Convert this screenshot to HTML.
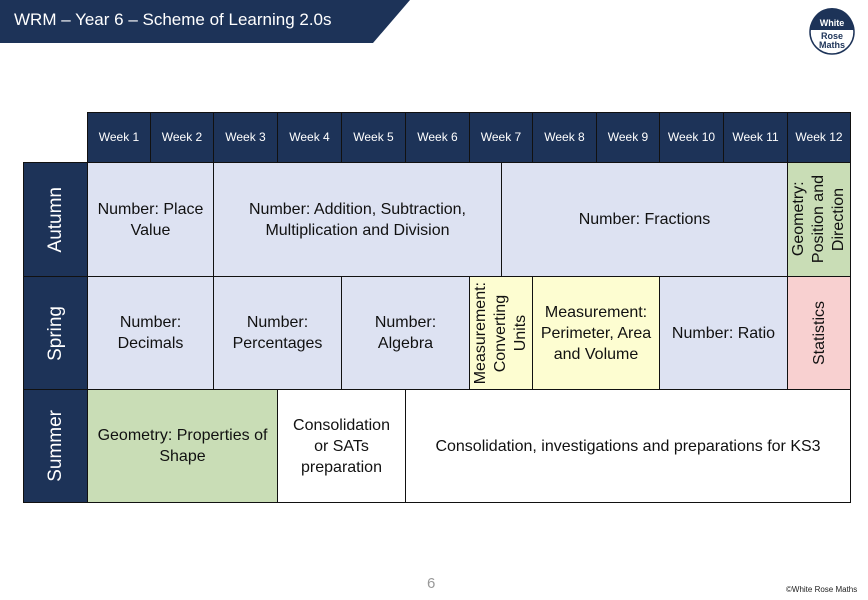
<!DOCTYPE html>
<html><head><style>
body{margin:0;width:868px;height:600px;background:#fff;position:relative;overflow:hidden;font-family:"Liberation Sans",sans-serif}
.c{position:absolute;box-sizing:border-box;border:1.5px solid #111;display:flex;align-items:center;justify-content:center;text-align:center;font-size:16px;line-height:21px;color:#111}
.h{background:#1d3358;color:#fff;font-size:12px}
.b{background:#dde2f2}.g{background:#c9ddb6}.y{background:#fdfdd1}.p{background:#f8d0d0}.w{background:#fff}
.v{writing-mode:vertical-rl;transform:rotate(180deg)}
.s{background:#1d3358;color:#fff;font-size:19px}
</style></head><body>
<svg style="position:absolute;left:0;top:0" width="868" height="60">
<polygon points="0,0 410,0 373,43 0,43" fill="#1d3358"/>
<circle cx="832" cy="32" r="22" fill="#fff" stroke="#1d3358" stroke-width="1.5"/>
<path d="M810,30 A22,22 0 0 1 854,30 Z" fill="#1d3358"/>
<text x="832" y="26" fill="#fff" font-size="9" font-weight="bold" text-anchor="middle" font-family="Liberation Sans">White</text>
<text x="832" y="39" fill="#1d3358" font-size="9" font-weight="bold" text-anchor="middle" font-family="Liberation Sans">Rose</text>
<text x="832" y="48" fill="#1d3358" font-size="9" font-weight="bold" text-anchor="middle" font-family="Liberation Sans">Maths</text>
</svg>
<div style="position:absolute;left:14px;top:10px;color:#fff;font-size:17px">WRM – Year 6 – Scheme of Learning 2.0s</div>

<div class="c h" style="left:87px;top:112px;width:64px;height:51px">Week 1</div>
<div class="c h" style="left:150px;top:112px;width:64px;height:51px">Week 2</div>
<div class="c h" style="left:213px;top:112px;width:65px;height:51px">Week 3</div>
<div class="c h" style="left:277px;top:112px;width:65px;height:51px">Week 4</div>
<div class="c h" style="left:341px;top:112px;width:65px;height:51px">Week 5</div>
<div class="c h" style="left:405px;top:112px;width:65px;height:51px">Week 6</div>
<div class="c h" style="left:469px;top:112px;width:64px;height:51px">Week 7</div>
<div class="c h" style="left:532px;top:112px;width:65px;height:51px">Week 8</div>
<div class="c h" style="left:596px;top:112px;width:64px;height:51px">Week 9</div>
<div class="c h" style="left:659px;top:112px;width:65px;height:51px">Week 10</div>
<div class="c h" style="left:723px;top:112px;width:65px;height:51px">Week 11</div>
<div class="c h" style="left:787px;top:112px;width:64px;height:51px">Week 12</div>

<div class="c s" style="left:23px;top:162px;width:65px;height:115px"><span class="v">Autumn</span></div>
<div class="c s" style="left:23px;top:276px;width:65px;height:114px"><span class="v">Spring</span></div>
<div class="c s" style="left:23px;top:389px;width:65px;height:114px"><span class="v">Summer</span></div>

<div class="c b" style="left:87px;top:162px;width:127px;height:115px">Number: Place<br>Value</div>
<div class="c b" style="left:213px;top:162px;width:289px;height:115px">Number: Addition, Subtraction,<br>Multiplication and Division</div>
<div class="c b" style="left:501px;top:162px;width:287px;height:115px">Number: Fractions</div>
<div class="c g" style="left:787px;top:162px;width:64px;height:115px"><span class="v" style="line-height:20px">Geometry:<br>Position and<br>Direction</span></div>

<div class="c b" style="left:87px;top:276px;width:127px;height:114px">Number:<br>Decimals</div>
<div class="c b" style="left:213px;top:276px;width:129px;height:114px">Number:<br>Percentages</div>
<div class="c b" style="left:341px;top:276px;width:129px;height:114px">Number:<br>Algebra</div>
<div class="c y" style="left:469px;top:276px;width:64px;height:114px"><span class="v" style="line-height:20px">Measurement:<br>Converting<br>Units</span></div>
<div class="c y" style="left:532px;top:276px;width:128px;height:114px">Measurement:<br>Perimeter, Area<br>and Volume</div>
<div class="c b" style="left:659px;top:276px;width:129px;height:114px">Number: Ratio</div>
<div class="c p" style="left:787px;top:276px;width:64px;height:114px"><span class="v">Statistics</span></div>

<div class="c g" style="left:87px;top:389px;width:191px;height:114px">Geometry: Properties of<br>Shape</div>
<div class="c w" style="left:277px;top:389px;width:129px;height:114px">Consolidation<br>or SATs<br>preparation</div>
<div class="c w" style="left:405px;top:389px;width:446px;height:114px">Consolidation, investigations and preparations for KS3</div>

<div style="position:absolute;left:427px;top:575px;color:#999;font-size:15px">6</div>
<div style="position:absolute;left:786px;top:585px;color:#222;font-size:8px">©White Rose Maths</div>
</body></html>
